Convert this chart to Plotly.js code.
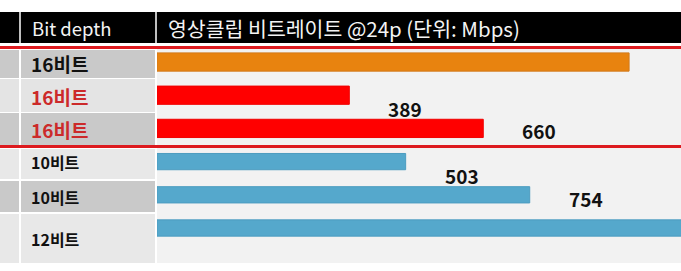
<!DOCTYPE html>
<html><head><meta charset="utf-8">
<script src="https://cdn.plot.ly/plotly-3.0.1.min.js"></script>
<style>html,body{margin:0;padding:0;background:#fff;}#chart{width:681px;height:271px;}</style>
</head><body><div id="chart"></div>
<script>
// ---- data ----
const headerCol = 'Bit depth';
const headerTitle = '영상클립 비트레이트 @24p (단위: Mbps)';
const bitDepth = ['16비트', '16비트', '16비트', '10비트', '10비트', '12비트'];
const bitrate = [955, 389, 660, 503, 754, 1150];
const valueLabels = ['', '389', '660', '503', '754', ''];

// ---- style ----
const W = 681, H = 271, L = 157, T = 49, B = 8;
const PW = W - L, PH = H - T - B;
const px = x => (x - L) / PW;
const py = y => 1 - (y - T) / PH;
const barColors = ['#e8830f', '#ff0000', '#ff0000', '#55a8cc', '#55a8cc', '#55a8cc'];
const barLines = ['#d27a1c', '#f00000', '#f00000', '#4c9cc0', '#4c9cc0', '#4c9cc0'];
const barWidths = [0.55, 0.55, 0.55, 0.49, 0.49, 0.49];
const labelColors = ['#111111', '#cc2a2a', '#cc2a2a', '#111111', '#111111', '#111111'];
const labelSizes = [19, 19, 19, 16, 16, 16];
const labelShift = [-1, -1, -1, 0, -2, -11];
const valueShift = [0, -13, -2, -14, -4, 0];
const rowBands = [[50, 78], [79, 112], [113, 145], [149, 179], [181, 212], [214, 263]];
const rowFill = ['#c9c9c9', '#e4e4e4', '#c9c9c9', '#e8e8e8', '#c9c9c9', '#e8e8e8'];
const font = '"Noto Sans CJK KR", "Noto Sans", sans-serif';

const yIdx = bitDepth.map((_, i) => i);

const trace = {
  type: 'bar', orientation: 'h',
  x: bitrate, y: yIdx, width: barWidths,
  marker: {color: barColors, line: {color: barLines, width: 1}},
  hoverinfo: 'skip'
};

const shapes = [];
shapes.push({type: 'rect', xref: 'paper', yref: 'paper', x0: px(0), x1: px(W), y0: py(12), y1: py(43), fillcolor: '#000', line: {width: 0}, layer: 'below'});
[20, 156].forEach(x => shapes.push({type: 'line', xref: 'paper', yref: 'paper', x0: px(x), x1: px(x), y0: py(12), y1: py(43), line: {color: '#ffffff', width: 1.5}}));
rowBands.forEach((b, i) => {
  shapes.push({type: 'rect', xref: 'paper', yref: 'paper', x0: px(0), x1: px(19), y0: py(b[0]), y1: py(b[1]), fillcolor: rowFill[i], line: {width: 0}, layer: 'below'});
  shapes.push({type: 'rect', xref: 'paper', yref: 'paper', x0: px(21), x1: px(155), y0: py(b[0]), y1: py(b[1]), fillcolor: rowFill[i], line: {width: 0}, layer: 'below'});
});
[47.5, 146.5].forEach(y => shapes.push({type: 'line', xref: 'paper', yref: 'paper', x0: px(0), x1: px(W), y0: py(y), y1: py(y), line: {color: '#dd1a1f', width: 3}}));

const annotations = [];
annotations.push({xref: 'paper', yref: 'paper', x: px(30), y: py(28), xanchor: 'left', yanchor: 'middle', text: headerCol, showarrow: false, font: {family: font, size: 18.5, color: '#f4f4f4'}});
annotations.push({xref: 'paper', yref: 'paper', x: px(166), y: py(28), xanchor: 'left', yanchor: 'middle', text: headerTitle, showarrow: false, font: {family: font, size: 20.5, color: '#f4f4f4'}});
bitDepth.forEach((lab, i) => {
  annotations.push({xref: 'paper', yref: 'y', x: px(29), y: yIdx[i], yshift: labelShift[i], xanchor: 'left', yanchor: 'middle', text: '<b>' + lab + '</b>', showarrow: false, font: {family: font, size: labelSizes[i], color: labelColors[i]}});
  if (valueLabels[i]) {
    annotations.push({xref: 'x', yref: 'y', x: bitrate[i], y: yIdx[i], xshift: 37, yshift: valueShift[i], xanchor: 'left', yanchor: 'middle', text: '<b>' + valueLabels[i] + '</b>', showarrow: false, font: {family: font, size: 19, color: '#111111'}});
  }
});

const layout = {
  width: W, height: H,
  margin: {l: L, r: 0, t: T, b: B, pad: 0},
  paper_bgcolor: '#ffffff', plot_bgcolor: '#f2f2f2',
  showlegend: false,
  xaxis: {range: [0, 1060], visible: false, fixedrange: true},
  yaxis: {range: [6.054, -0.392], visible: false, fixedrange: true},
  shapes: shapes, annotations: annotations,
  bargap: 0
};
Plotly.newPlot('chart', [trace], layout, {staticPlot: true, displayModeBar: false});
</script></body></html>
